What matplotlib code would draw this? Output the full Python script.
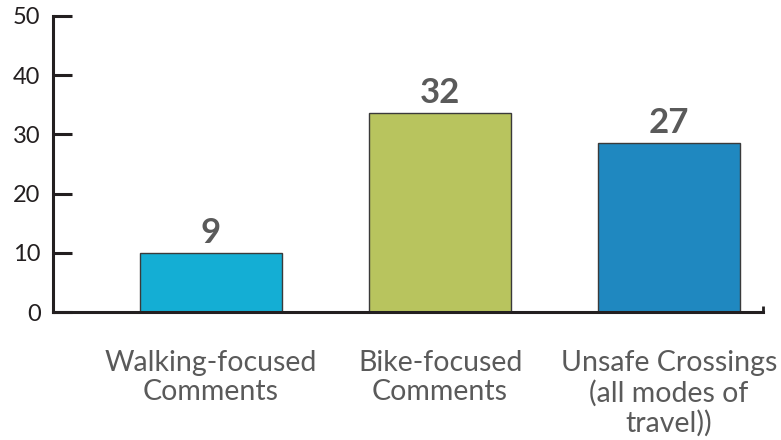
import matplotlib
matplotlib.use('Agg')
import matplotlib.pyplot as plt
import numpy as np

# categories and values
categories = ['Walking-focused\nComments', 'Bike-focused\nComments',
              'Unsafe Crossings\n(all modes of\ntravel))']
value_labels = ['9', '32', '27']
bar_heights = [10, 33.6, 28.6]
colors = ['#14AED4', '#B8C45E', '#1F88C0']
yticks = [0, 10, 20, 30, 40, 50]

plt.rcParams['font.family'] = ['Lato', 'DejaVu Sans']

fig = plt.figure(figsize=(7.81, 4.40), dpi=100)
ax = fig.add_axes([53 / 781, 128 / 440, (763 - 53) / 781, (424 - 128) / 440])

x = np.arange(len(categories))
ax.bar(x, bar_heights, width=0.62, color=colors,
       edgecolor='#3a3a3a', linewidth=1.0, zorder=2)

for xi, h, lab in zip(x, bar_heights, value_labels):
    ax.annotate(lab, xy=(xi, h), xytext=(0, 7.2), textcoords='offset points',
                ha='center', va='baseline', fontsize=25, fontweight='bold',
                color='#5a5a5a')

for xi, cat in zip(x, categories):
    ax.annotate(cat, xy=(xi, 0), xycoords=('data', 'axes fraction'),
                xytext=(0, -27), textcoords='offset points',
                ha='center', va='top', fontsize=20.5, color='#5a5a5a',
                linespacing=1.18)

ax.set_xlim(-0.69, 2.41)
ax.set_ylim(0, 50)
ax.set_yticks(yticks)
ax.set_xticks([2.41])
ax.set_xticklabels([''])
ax.tick_params(axis='x', direction='in', length=4, width=2, color='#231F20')
ax.tick_params(axis='y', direction='in', length=14, width=2.2,
               color='#231F20', labelsize=17, labelcolor='#231F20', pad=9)

for s in ['top', 'right']:
    ax.spines[s].set_visible(False)
for s in ['left', 'bottom']:
    ax.spines[s].set_linewidth(2.2)
    ax.spines[s].set_color('#231F20')
ax.spines['bottom'].set_zorder(3)

fig.savefig('out.png', dpi=100)
